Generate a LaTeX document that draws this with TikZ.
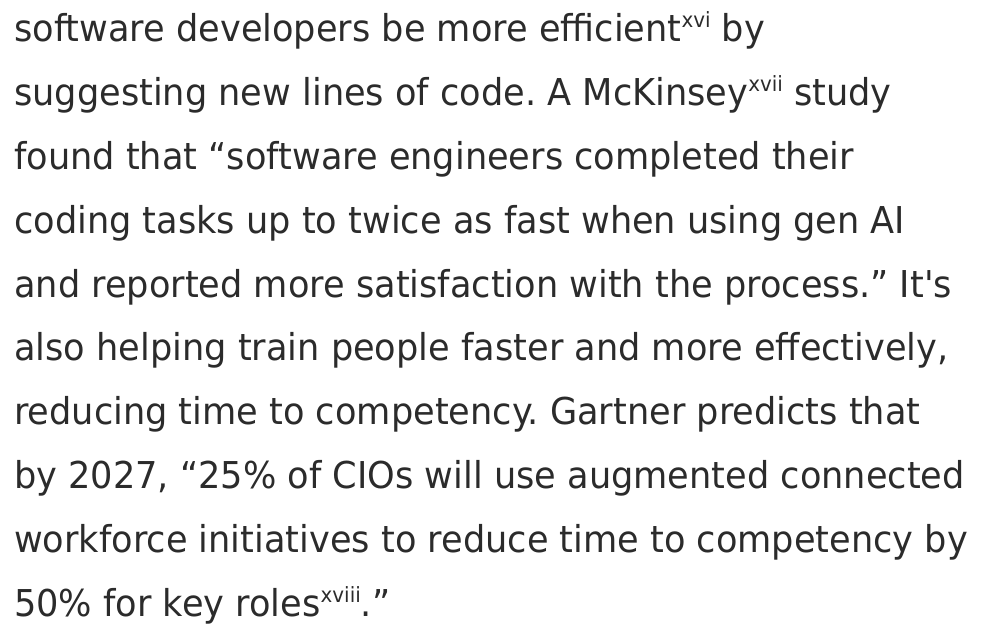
\documentclass[tikz,border=0pt]{standalone}
\usepackage{fontspec}
\setmainfont{DejaVu Sans}[Ligatures=TeXOff,FakeStretch=0.95]
\definecolor{txt}{HTML}{2B2B2B}
\newcommand{\supr}[1]{\raisebox{14pt}{\fontsize{21}{21}\selectfont #1}}
\begin{document}
\frenchspacing
\begin{tikzpicture}[x=1pt,y=1pt,
  ln/.style={anchor=base west,inner sep=0pt,text=txt,font=\fontsize{37}{37}\selectfont}]
\useasboundingbox (0,0) rectangle (988,624);
\node[ln] (l1) at (14,582) {software developers be more efficient\supr{xvi} by};
\node[ln] (l2) at (14,518.2) {suggesting new lines of code. A McKinsey\supr{xvii} study};
\node[ln] (l3) at (14,454.4) {found that “software engineers completed their};
\node[ln] (l4) at (14,390.6) {coding tasks up to twice as fast when using gen AI};
\node[ln] (l5) at (14,326.8) {and reported more satisfaction with the process.” It's};
\node[ln] (l6) at (14,263.0) {also helping train people faster and more effectively,};
\node[ln] (l7) at (14,199.2) {reducing time to competency. Gartner predicts that};
\node[ln] (l8) at (14,135.4) {by 2027, “25\% of CIOs will use augmented connected};
\node[ln] (l9) at (14,71.6) {workforce initiatives to reduce time to competency by};
\node[ln] (l10) at (14,7.8) {50\% for key roles\supr{xviii}.”};
\end{tikzpicture}
\end{document}
